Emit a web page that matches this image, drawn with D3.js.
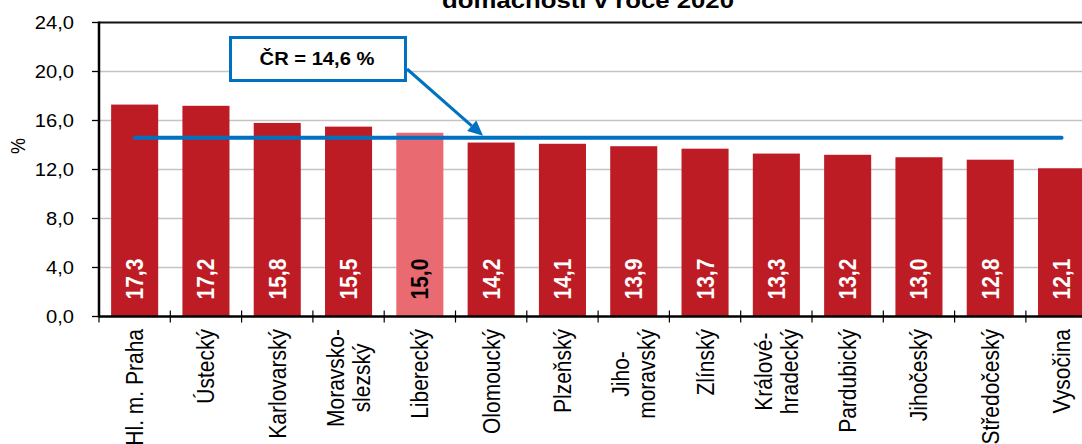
<!DOCTYPE html>
<html><head><meta charset="utf-8">
<script src="https://cdn.jsdelivr.net/npm/d3@7"></script>
<style>html,body{margin:0;padding:0;background:#fff;overflow:hidden;} svg{display:block;font-family:"Liberation Sans",Arial,sans-serif;}</style>
</head><body>
<svg id="c" width="1082" height="444"></svg>
<script>
const titleText = "domácností v roce 2020";
const categories = ["Hl. m. Praha","Ústecký","Karlovarský","Moravsko-\nslezský","Liberecký","Olomoucký","Plzeňský","Jiho-\nmoravský","Zlínský","Králové-\nhradecký","Pardubický","Jihočeský","Středočeský","Vysočina"];
const values = [17.3,17.2,15.8,15.5,15.0,14.2,14.1,13.9,13.7,13.3,13.2,13.0,12.8,12.1];
const highlightCategory = "Liberecký";
const averageValue = 14.6;
const averageLabel = "ČR = 14,6 %";
const yTicks = [0,4,8,12,16,20,24];
const yAxisTitle = "%";

(function () {
const SX = 1.12;
const RED = "#BE1C25", LIGHT = "#E96B71", BLUE = "#0070C0";
const svg = d3.select("#c");
const pLeft = 99, pStep = 71.3, pTop = 22.5, pBottom = 316.5;
const pRight = pLeft + pStep * categories.length;
const x = d3.scaleBand().domain(categories).range([pLeft, pRight]).paddingInner(0.34).paddingOuter(0.17);
const y = d3.scaleLinear().domain([0, 24]).range([pBottom, pTop]);
const fmt = v => d3.format(".1f")(v).replace(".", ",");
const data = categories.map((c, i) => ({c, v: values[i]}));

// gridlines
svg.append("g").selectAll("line").data(yTicks.filter(t => t > 0 && t < 24)).join("line")
  .attr("x1", pLeft).attr("x2", pRight).attr("y1", d => y(d)).attr("y2", d => y(d))
  .attr("stroke", "#C4C4C4").attr("stroke-width", 1.5);
// top border
svg.append("line").attr("x1", pLeft).attr("x2", pRight).attr("y1", y(24)).attr("y2", y(24))
  .attr("stroke", "#111").attr("stroke-width", 2.2);

// bars
svg.append("g").selectAll("rect").data(data).join("rect")
  .attr("x", d => x(d.c)).attr("width", x.bandwidth())
  .attr("y", d => y(d.v)).attr("height", d => y(0) - y(d.v))
  .attr("fill", d => d.c === highlightCategory ? LIGHT : RED);

// average line
svg.append("line")
  .attr("x1", x(categories[0]) + x.bandwidth() / 2)
  .attr("x2", x(categories[categories.length - 1]) + x.bandwidth() / 2)
  .attr("y1", y(averageValue)).attr("y2", y(averageValue))
  .attr("stroke", BLUE).attr("stroke-width", 4).attr("stroke-linecap", "round");

// bar labels
svg.append("g").selectAll("text").data(data).join("text")
  .attr("transform", d => `translate(${x(d.c) + x.bandwidth() / 2},${y(0) - 17}) scale(${SX},1) rotate(-90)`)
  .attr("dy", "0.36em").attr("text-anchor", "start")
  .attr("font-size", 21).attr("font-weight", "bold")
  .attr("fill", d => d.c === highlightCategory ? "#000" : "#fff")
  .text(d => fmt(d.v));

// axes lines
svg.append("line").attr("x1", pLeft).attr("x2", pLeft).attr("y1", y(24) - 1).attr("y2", y(0) + 1)
  .attr("stroke", "#000").attr("stroke-width", 2.5);
svg.append("line").attr("x1", pLeft).attr("x2", pRight).attr("y1", y(0)).attr("y2", y(0))
  .attr("stroke", "#000").attr("stroke-width", 2.5);

// y ticks and labels
const yg = svg.append("g");
yg.selectAll("line").data(yTicks).join("line")
  .attr("x1", pLeft - 7).attr("x2", pLeft).attr("y1", d => y(d)).attr("y2", d => y(d))
  .attr("stroke", "#000").attr("stroke-width", 1.3);
yg.selectAll("text").data(yTicks).join("text")
  .attr("transform", d => `translate(74,${y(d)}) scale(${SX},1)`)
  .attr("dy", "0.36em").attr("text-anchor", "end").attr("font-size", 18).attr("fill", "#000")
  .text(d => fmt(d));

// x ticks at band boundaries
const bounds = d3.range(categories.length + 1).map(i => x.range()[0] + i * x.step());
svg.append("g").selectAll("line").data(bounds).join("line")
  .attr("x1", d => d).attr("x2", d => d).attr("y1", y(0) - 6).attr("y2", y(0) + 6)
  .attr("stroke", "#000").attr("stroke-width", 1.2);

// x labels (multi-line labels are centred on their longest line)
const xg = svg.append("g");
data.forEach(d => {
  const lines = d.c.split("\n");
  const cx = x(d.c) + x.bandwidth() / 2;
  const g = xg.append("g").attr("transform", `translate(${cx},329) scale(${SX},1) rotate(-90)`);
  const n = lines.length;
  const texts = lines.map((ln, i) => g.append("text").attr("x", 0).attr("y", (i - (n - 1) / 2) * 23)
      .attr("dy", "0.36em").attr("text-anchor", "end").attr("font-size", 21).attr("fill", "#000")
      .text(ln));
  if (n > 1) {
    const maxLen = d3.max(texts, t => t.node().getComputedTextLength());
    texts.forEach(t => t.attr("text-anchor", "middle").attr("x", -maxLen / 2));
  }
});

// y-axis title
svg.append("text").attr("transform", `translate(18,146) scale(${SX},1) rotate(-90)`)
  .attr("dy", "0.36em").attr("text-anchor", "middle").attr("font-size", 18).text(yAxisTitle);

// chart title (partially cut)
svg.append("text").attr("transform", `translate(588,7.5) scale(${SX},1)`)
  .attr("text-anchor", "middle").attr("font-size", 23).attr("font-weight", "bold").text(titleText);

// callout
svg.append("rect").attr("x", 230.5).attr("y", 37.5).attr("width", 175).attr("height", 43)
  .attr("fill", "#fff").attr("stroke", BLUE).attr("stroke-width", 3);
svg.append("text").attr("transform", `translate(317,59) scale(${SX},1)`)
  .attr("dy", "0.36em").attr("text-anchor", "middle").attr("font-size", 18).attr("font-weight", "bold")
  .text(averageLabel);

// arrow
const ax0 = 407, ay0 = 69, ax1 = 483, ay1 = y(averageValue) - 2;
const ang = Math.atan2(ay1 - ay0, ax1 - ax0), hl = 15, hw = 7;
const bx = ax1 - hl * Math.cos(ang), by = ay1 - hl * Math.sin(ang);
svg.append("line").attr("x1", ax0).attr("y1", ay0).attr("x2", bx).attr("y2", by)
  .attr("stroke", BLUE).attr("stroke-width", 3);
svg.append("polygon").attr("fill", BLUE).attr("points", [
  [ax1, ay1],
  [bx + hw * Math.sin(ang), by - hw * Math.cos(ang)],
  [bx - hw * Math.sin(ang), by + hw * Math.cos(ang)]
].map(p => p.join(",")).join(" "));
})();
</script>
</body></html>
